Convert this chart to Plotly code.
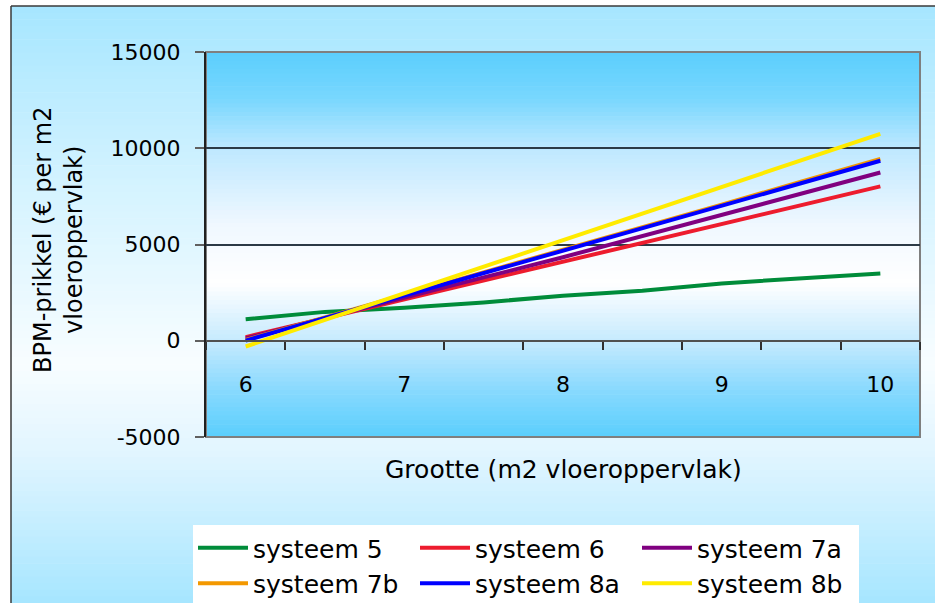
import plotly.graph_objects as go

# ---------------- data ----------------
grootte = [6, 6.5, 7, 7.5, 8, 8.5, 9, 9.5, 10]
tick_labels = ["6", "7", "8", "9", "10"]
tick_values = [6, 7, 8, 9, 10]

systeem_5 = [1120, 1500, 1720, 1990, 2340, 2600, 2980, 3220, 3500]
systeem_6 = [190, 1170, 2150, 3110, 4060, 5050, 6040, 7030, 8020]
systeem_7a = [120, 1190, 2250, 3290, 4340, 5440, 6540, 7640, 8740]
systeem_7b = [40, 1210, 2370, 3530, 4690, 5880, 7070, 8260, 9450]
systeem_8a = [10, 1170, 2330, 3490, 4650, 5830, 7000, 8180, 9350]
systeem_8b = [-300, 1080, 2460, 3840, 5220, 6600, 7990, 9370, 10750]

series_names = ["systeem 5", "systeem 6", "systeem 7a", "systeem 7b", "systeem 8a", "systeem 8b"]
series_values = [systeem_5, systeem_6, systeem_7a, systeem_7b, systeem_8a, systeem_8b]
series_colors = ["#008C3A", "#ED1C2E", "#800080", "#F39800", "#0000FF", "#FFEB00"]

# ---------------- layout geometry (pixels) ----------------
W, H = 935, 603
L, R, T, B = 206, 920, 52, 437
PW, PH = R - L, B - T


def px(X):
    return (X - L) / PW


def py(Y):
    return (B - Y) / PH


def lerp_stops(stops, f):
    for (f0, c0), (f1, c1) in zip(stops[:-1], stops[1:]):
        if f0 <= f <= f1:
            t = 0 if f1 == f0 else (f - f0) / (f1 - f0)
            return tuple(round(a + (b - a) * t) for a, b in zip(c0, c1))
    return stops[-1][1]


shapes = []

# outer gradient background
outer_stops = [(0.0, (166, 230, 255)), (0.3, (212, 243, 255)), (0.6, (248, 253, 255)),
               (0.75, (225, 245, 255)), (1.0, (166, 230, 255))]
oy0, oy1 = 6, H
n = 90
for i in range(n):
    y0 = oy0 + (oy1 - oy0) * i / n
    y1 = oy0 + (oy1 - oy0) * (i + 1) / n + 0.6
    c = lerp_stops(outer_stops, (i + 0.5) / n)
    shapes.append(dict(type="rect", xref="paper", yref="paper", layer="below",
                       x0=px(11), x1=px(W + 2), y0=py(y0), y1=py(y1),
                       line=dict(width=0), fillcolor="rgb(%d,%d,%d)" % c))
# outer border (top/left)
shapes.append(dict(type="line", xref="paper", yref="paper", layer="below",
                   x0=px(11), x1=px(W + 2), y0=py(6), y1=py(6),
                   line=dict(color="#3a3a3a", width=1.5)))
shapes.append(dict(type="line", xref="paper", yref="paper", layer="below",
                   x0=px(11), x1=px(11), y0=py(6), y1=py(H + 2),
                   line=dict(color="#3a3a3a", width=1.5)))

# plot area gradient
plot_stops = [(0.0, (91, 206, 253)), (0.12, (120, 215, 254)), (0.25, (190, 232, 255)),
              (0.45, (240, 248, 255)), (0.60, (255, 255, 255)), (0.75, (198, 234, 254)),
              (0.88, (135, 217, 254)), (1.0, (91, 206, 253))]
n = 90
for i in range(n):
    y0 = T + PH * i / n
    y1 = T + PH * (i + 1) / n + 0.6
    c = lerp_stops(plot_stops, (i + 0.5) / n)
    shapes.append(dict(type="rect", xref="paper", yref="paper", layer="below",
                       x0=0, x1=1, y0=py(y0), y1=py(min(y1, B)),
                       line=dict(width=0), fillcolor="rgb(%d,%d,%d)" % c))
# plot border (gray)
shapes.append(dict(type="rect", xref="paper", yref="paper", layer="below",
                   x0=0, x1=1, y0=0, y1=1, line=dict(color="#7f7f7f", width=2),
                   fillcolor="rgba(0,0,0,0)"))

fig = go.Figure()
for name, vals, col in zip(series_names, series_values, series_colors):
    fig.add_trace(go.Scatter(x=grootte, y=vals, name=name, mode="lines",
                             line=dict(color=col, width=4)))

font_family = "DejaVu Sans"
text_size = 25
tick_size = 22

fig.update_layout(
    width=W, height=H,
    margin=dict(l=L, r=W - R, t=T, b=H - B, autoexpand=False),
    paper_bgcolor="white",
    plot_bgcolor="rgba(0,0,0,0)",
    font=dict(family=font_family, size=text_size, color="black"),
    shapes=shapes,
    showlegend=True,
    legend=dict(orientation="h", x=px(526), y=py(525), xanchor="center", yanchor="top",
                bgcolor="white", borderwidth=0, entrywidth=157, entrywidthmode="pixels",
                font=dict(family=font_family, size=text_size, color="black"), itemwidth=50,
                traceorder="normal"),
    xaxis=dict(range=[5.75, 10.25], anchor="free", position=0.25,
               tickmode="array", tickvals=tick_values, ticktext=tick_labels,
               ticks="", showgrid=False, zeroline=False,
               showline=True, linecolor="#505050", linewidth=2,
               ticklabelstandoff=24,
               tickfont=dict(size=tick_size),
               minor=dict(tickmode="array",
                          tickvals=[5.75 + 0.5 * k for k in range(10)],
                          ticks="outside", ticklen=8, tickwidth=1.5,
                          tickcolor="#303030", showgrid=False)),
    yaxis=dict(range=[-5000, 15000], tickmode="array",
               tickvals=[-5000, 0, 5000, 10000, 15000],
               ticktext=["-5000", "0", "5000", "10000", "15000"],
               showgrid=True, gridcolor="#2c3a46", gridwidth=1.5,
               zeroline=False, showline=True, linecolor="#202020", linewidth=2,
               ticks="outside", ticklen=9, tickcolor="#606060", tickwidth=2,
               ticklabelstandoff=10,
               tickfont=dict(size=tick_size)),
    annotations=[
        dict(text="Grootte (m2 vloeroppervlak)", xref="paper", yref="paper",
             x=0.5, y=py(469), xanchor="center", yanchor="middle", showarrow=False,
             font=dict(size=text_size)),
        dict(text="BPM-prikkel (€ per m2<br>vloeroppervlak)", xref="paper", yref="paper",
             x=px(58), y=py(240), xanchor="center", yanchor="middle", showarrow=False,
             textangle=-90, font=dict(size=24)),
    ],
)

fig.write_html("out.html", config={"displayModeBar": False},
               post_script="document.body.style.margin='0px';")
